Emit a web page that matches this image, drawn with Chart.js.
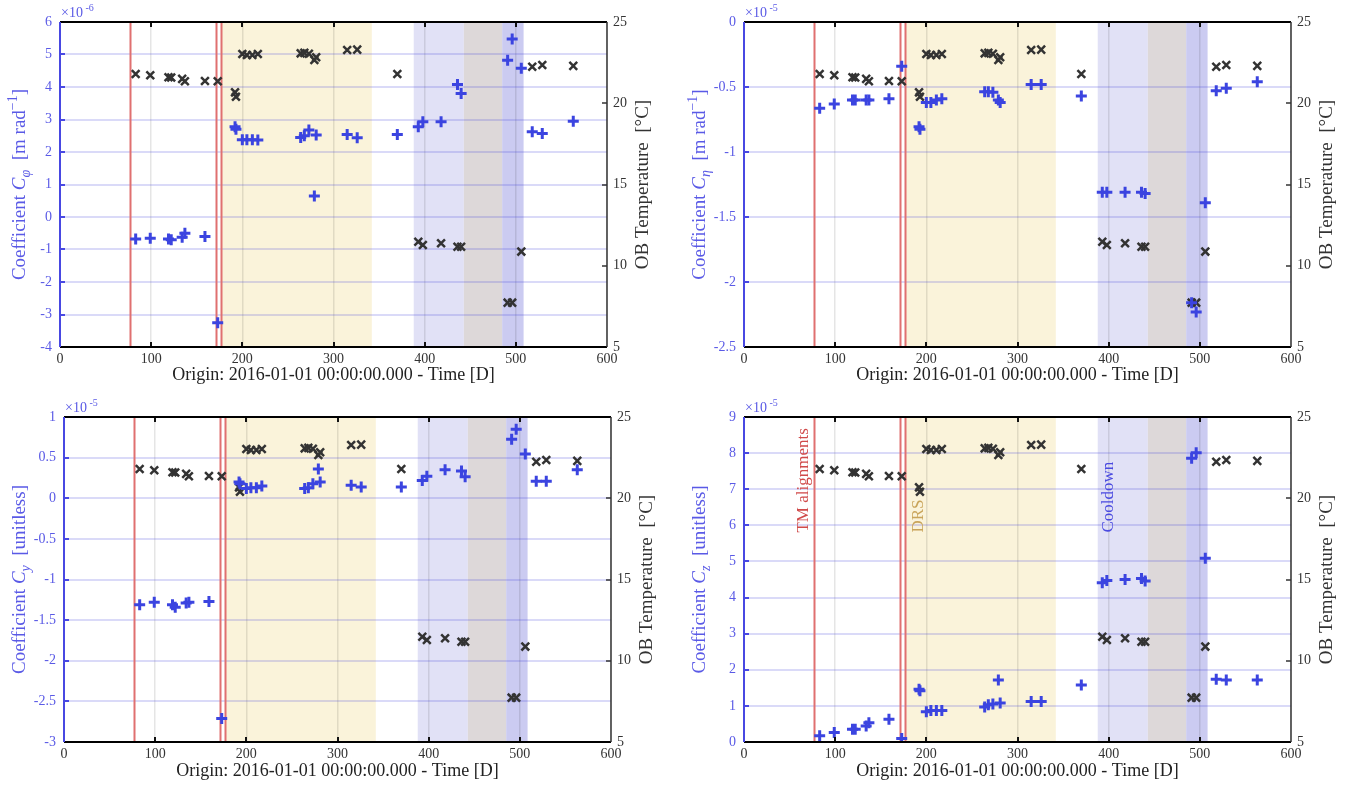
<!DOCTYPE html>
<html>
<head>
<meta charset="utf-8">
<script src="https://cdn.jsdelivr.net/npm/chart.js@4.4.1/dist/chart.umd.min.js"></script>
<style>
  body { margin: 0; background: #fff; width: 1361px; height: 791px; overflow: hidden; position: relative; }
  canvas { position: absolute; }
</style>
</head>
<body>
<canvas id="cPhi" width="680" height="395" style="left:0;top:0"></canvas>
<canvas id="cEta" width="681" height="395" style="left:680px;top:0"></canvas>
<canvas id="cY" width="680" height="396" style="left:0;top:395px"></canvas>
<canvas id="cZ" width="681" height="396" style="left:680px;top:395px"></canvas>
<script>
// ---- data (days since 2016-01-01) ----
const days = [83, 99, 119, 122, 134, 137, 159, 173, 192, 193, 200, 205, 211, 217, 264, 268, 273, 279, 281,
  315, 326, 370, 393, 398, 418, 436, 440, 491, 496, 506, 518, 529, 563];

// OB temperature [degC]
const obTemp = [21.8, 21.72, 21.6, 21.58, 21.5, 21.35, 21.37, 21.35, 20.67, 20.4, 23.03, 22.97, 22.97, 23.03,
  23.07, 23.1, 23.05, 22.66, 22.83, 23.28, 23.3, 21.8, 11.48, 11.28, 11.38, 11.17, 11.17, 7.73, 7.73, 10.87,
  22.25, 22.35, 22.3];

// coefficients, in units of the axis exponent
const coefPhi = [-0.68, -0.65, -0.68, -0.70, -0.62, -0.50, -0.60, -3.25, 2.78, 2.70, 2.38, 2.38, 2.38, 2.37,
  2.45, 2.50, 2.68, 0.65, 2.52, 2.54, 2.44, 2.54, 2.78, 2.93, 2.93, 4.08, 3.80, 4.82, 5.48, 4.58, 2.62, 2.57, 2.95];
const coefEta = [-0.664, -0.63, -0.60, -0.60, -0.60, -0.60, -0.59, -0.34, -0.805, -0.825, -0.62, -0.62, -0.60, -0.59,
  -0.536, -0.536, -0.54, -0.60, -0.62, -0.48, -0.48, -0.57, -1.31, -1.31, -1.31, -1.31, -1.32, -2.16, -2.23, -1.39,
  -0.528, -0.51, -0.46];
const coefY = [-1.31, -1.28, -1.31, -1.34, -1.29, -1.28, -1.27, -2.71, 0.20, 0.18, 0.12, 0.13, 0.13, 0.15,
  0.12, 0.13, 0.18, 0.36, 0.20, 0.16, 0.14, 0.14, 0.22, 0.27, 0.35, 0.335, 0.265, 0.725, 0.85, 0.545, 0.21, 0.21, 0.35];
const coefZ = [0.17, 0.26, 0.35, 0.35, 0.44, 0.53, 0.63, 0.10, 1.46, 1.42, 0.84, 0.87, 0.87, 0.87,
  0.97, 1.03, 1.05, 1.72, 1.08, 1.12, 1.12, 1.58, 4.41, 4.47, 4.50, 4.53, 4.46, 7.86, 8.01, 5.09, 1.74, 1.72, 1.72];

// events (days)
const tmAlignments = [76.5, 171, 177];
const drsBand = [177, 342];
const cooldownBand = [388, 443];
const warmBand = [443, 485];
const lateBand = [485, 508.5];

const SERIF = "'Liberation Serif', 'DejaVu Serif', serif";
const BLUE = '#3b44e0';
const AXBLUE = '#4848e2';
const LBLUE = '#5a5ae6';
const DARK = '#333333';

function fontFor(s, size) {
  const sz = (s.sub || s.sup) ? Math.round(size * 0.72) : size;
  return (s.i ? 'italic ' : '') + sz + 'px ' + SERIF;
}

// rich text: segments of {t, i, sub, sup}; centred on (x, y)
function drawRich(ctx, segs, x, y, size, color, rotate, align) {
  ctx.save();
  ctx.translate(x, y);
  if (rotate) ctx.rotate(-Math.PI / 2);
  let total = 0;
  segs.forEach(function (s) { ctx.font = fontFor(s, size); s.w = ctx.measureText(s.t).width; total += s.w; });
  let cx = align === 'left' ? 0 : -total / 2;
  ctx.fillStyle = color;
  ctx.textBaseline = 'alphabetic';
  segs.forEach(function (s) {
    ctx.font = fontFor(s, size);
    const dy = s.sub ? size * 0.25 : (s.sup ? -size * 0.42 : 0);
    ctx.fillText(s.t, cx, dy + size * 0.34);
    cx += s.w;
  });
  ctx.restore();
}

function plainTick(v) {
  return String(+v.toFixed(2));
}

const panelDeco = {
  id: 'panelDeco',
  beforeDraw(chart) {
    const ctx = chart.ctx, a = chart.chartArea, x = chart.scales.x;
    const bands = [[drsBand, '#faf3da'], [cooldownBand, '#e1e1f6'], [warmBand, '#ddd8d9'], [lateBand, '#cbcbf1']];
    ctx.save();
    bands.forEach(function (b) {
      const x0 = x.getPixelForValue(b[0][0]), x1 = x.getPixelForValue(b[0][1]);
      ctx.fillStyle = b[1];
      ctx.fillRect(x0, a.top, x1 - x0, a.bottom - a.top);
    });
    ctx.restore();
  },
  beforeDatasetsDraw(chart) {
    const ctx = chart.ctx, a = chart.chartArea, x = chart.scales.x, y = chart.scales.y;
    ctx.save();
    ctx.strokeStyle = '#e07070';
    ctx.lineWidth = 2;
    tmAlignments.forEach(function (d) {
      const px = Math.round(x.getPixelForValue(d)) + 0.5;
      ctx.beginPath(); ctx.moveTo(px, a.top); ctx.lineTo(px, a.bottom); ctx.stroke();
    });
    const o = chart.options.plugins.panelDeco;
    if (o.labels) {
      ctx.font = '17px ' + SERIF;
      ctx.textAlign = 'left';
      ctx.textBaseline = 'middle';
      o.labels.forEach(function (l) {
        ctx.save();
        ctx.translate(x.getPixelForValue(l.at), y.getPixelForValue(l.level));
        ctx.rotate(-Math.PI / 2);
        ctx.fillStyle = l.color;
        ctx.fillText(l.text, 0, 0);
        ctx.restore();
      });
    }
    ctx.restore();
  },
  afterDraw(chart) {
    const ctx = chart.ctx, a = chart.chartArea, x = chart.scales.x, y = chart.scales.y, y2 = chart.scales.y2;
    const o = chart.options.plugins.panelDeco;
    ctx.save();
    // inward tick marks
    ctx.lineWidth = 2;
    ctx.strokeStyle = '#111';
    for (let d = 100; d < 600; d += 100) {
      const px = Math.round(x.getPixelForValue(d));
      ctx.beginPath(); ctx.moveTo(px, a.top); ctx.lineTo(px, a.top + 5); ctx.stroke();
      ctx.beginPath(); ctx.moveTo(px, a.bottom); ctx.lineTo(px, a.bottom - 5); ctx.stroke();
    }
    ctx.strokeStyle = AXBLUE;
    y.ticks.forEach(function (t) {
      const py = Math.round(y.getPixelForValue(t.value));
      ctx.beginPath(); ctx.moveTo(a.left, py); ctx.lineTo(a.left + 5, py); ctx.stroke();
    });
    ctx.strokeStyle = DARK;
    ctx.lineWidth = 1.5;
    y2.ticks.forEach(function (t) {
      const py = Math.round(y2.getPixelForValue(t.value));
      ctx.beginPath(); ctx.moveTo(a.right, py); ctx.lineTo(a.right - 5, py); ctx.stroke();
    });
    // frame
    ctx.lineWidth = 2;
    ctx.strokeStyle = '#000';
    ctx.beginPath(); ctx.moveTo(a.left, a.top); ctx.lineTo(a.right, a.top); ctx.stroke();
    ctx.beginPath(); ctx.moveTo(a.left, a.bottom); ctx.lineTo(a.right, a.bottom); ctx.stroke();
    ctx.strokeStyle = AXBLUE;
    ctx.beginPath(); ctx.moveTo(a.left, a.top); ctx.lineTo(a.left, a.bottom); ctx.stroke();
    ctx.strokeStyle = DARK;
    ctx.lineWidth = 1.5;
    ctx.beginPath(); ctx.moveTo(a.right, a.top); ctx.lineTo(a.right, a.bottom); ctx.stroke();
    ctx.restore();
    // axis titles
    const mid = (a.top + a.bottom) / 2;
    drawRich(ctx, o.leftTitle, 19, mid, 19, LBLUE, true);
    drawRich(ctx, [{ t: 'OB Temperature  [\u00B0C]' }], a.right + 35, mid, 19, DARK, true);
    // exponent
    drawRich(ctx, [{ t: '\u00D710' }, { t: ' ' + o.exponent, sup: true }], a.left + 1, a.top - 10, 14, LBLUE, false, 'left');
  }
};

function makePanel(id, cfg) {
  return new Chart(document.getElementById(id), {
    type: 'scatter',
    data: {
      datasets: [
        {
          data: days.map(function (d, i) { return { x: d, y: cfg.values[i] }; }),
          yAxisID: 'y', pointStyle: 'cross', radius: 5.5, borderWidth: 3,
          borderColor: BLUE, backgroundColor: BLUE
        },
        {
          data: days.map(function (d, i) { return { x: d, y: obTemp[i] }; }),
          yAxisID: 'y2', pointStyle: 'crossRot', radius: 5.5, borderWidth: 2.5,
          borderColor: DARK, backgroundColor: DARK
        }
      ]
    },
    options: {
      responsive: false,
      animation: false,
      events: [],
      layout: { padding: { top: 22, left: 0, right: 0, bottom: 0 } },
      plugins: {
        legend: { display: false },
        tooltip: { enabled: false },
        panelDeco: { leftTitle: cfg.leftTitle, exponent: cfg.exponent, labels: cfg.labels }
      },
      scales: {
        x: {
          type: 'linear', min: 0, max: 600,
          afterFit: function (s) { s.height = cfg.xH; },
          ticks: { stepSize: 100, color: DARK, padding: 4, font: { family: SERIF, size: 14 } },
          grid: { color: 'rgba(0,0,0,0.1)', lineWidth: 1.5, drawTicks: false },
          border: { display: false },
          title: {
            display: true, text: 'Origin: 2016-01-01 00:00:00.000 - Time [D]',
            color: '#222', font: { family: SERIF, size: 18 }, padding: { top: 0, bottom: 9 }
          }
        },
        y: {
          position: 'left', min: cfg.min, max: cfg.max,
          afterFit: function (s) { s.width = cfg.yW; },
          ticks: { stepSize: cfg.step, color: LBLUE, padding: 8, font: { family: SERIF, size: 14 }, callback: plainTick },
          grid: { color: 'rgba(70,70,220,0.2)', lineWidth: 2, drawTicks: false },
          border: { display: false }
        },
        y2: {
          position: 'right', min: 5, max: 25,
          afterFit: function (s) { s.width = cfg.y2W; },
          ticks: { stepSize: 5, color: DARK, padding: 6, font: { family: SERIF, size: 14 }, callback: plainTick },
          grid: { display: false, drawTicks: false },
          border: { display: false }
        }
      }
    },
    plugins: [panelDeco]
  });
}

makePanel('cPhi', {
  values: coefPhi, min: -4, max: 6, step: 1, exponent: '-6', yW: 60, y2W: 73, xH: 48,
  leftTitle: [{ t: 'Coefficient ' }, { t: 'C', i: true }, { t: '\u03C6', i: true, sub: true }, { t: '  [m rad' }, { t: '\u22121', sup: true }, { t: ']' }]
});
makePanel('cEta', {
  values: coefEta, min: -2.5, max: 0, step: 0.5, exponent: '-5', yW: 64, y2W: 70, xH: 48,
  leftTitle: [{ t: 'Coefficient ' }, { t: 'C', i: true }, { t: '\u03B7', i: true, sub: true }, { t: '  [m rad' }, { t: '\u22121', sup: true }, { t: ']' }]
});
makePanel('cY', {
  values: coefY, min: -3, max: 1, step: 0.5, exponent: '-5', yW: 64, y2W: 69, xH: 49,
  leftTitle: [{ t: 'Coefficient ' }, { t: 'C', i: true }, { t: 'y', i: true, sub: true }, { t: '  [unitless]' }]
});
makePanel('cZ', {
  values: coefZ, min: 0, max: 9, step: 1, exponent: '-5', yW: 64, y2W: 70, xH: 49,
  leftTitle: [{ t: 'Coefficient ' }, { t: 'C', i: true }, { t: 'z', i: true, sub: true }, { t: '  [unitless]' }],
  labels: [
    { text: 'TM alignments', at: 65, level: 5.8, color: '#d04a4a' },
    { text: 'DRS', at: 191, level: 5.8, color: '#c9a45a' },
    { text: 'Cooldown', at: 400, level: 5.8, color: '#4a4ae0' }
  ]
});
</script>
</body>
</html>
